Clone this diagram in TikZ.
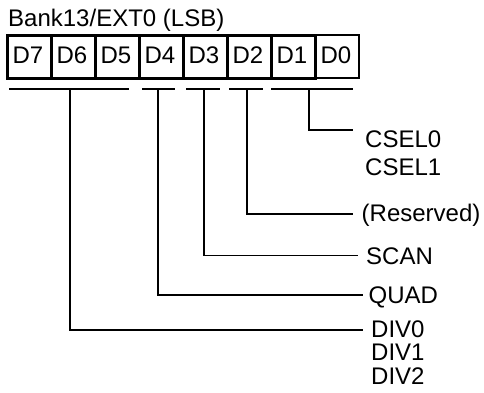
\documentclass[tikz,border=0pt]{standalone}
\usepackage{fontspec}
\setmainfont{Liberation Sans}
\begin{document}
\begin{tikzpicture}[x=1pt,y=-1pt,
  lbl/.style={inner sep=0pt,anchor=base west,font=\fontsize{24}{28}\selectfont},
  bitbox/.style={draw,line width=2.5pt,minimum width=44pt,minimum height=43pt,inner sep=0pt,anchor=north west},
  bitlast/.style={bitbox,line width=1.5pt},
  bitlbl/.style={inner sep=0pt,anchor=base,font=\fontsize{24}{28}\selectfont},
  bar/.style={line width=1.1pt},
  conn/.style={line width=1.6pt}]
\useasboundingbox (0,0) rectangle (484,392);
\node[lbl] (title) at (8,26.5) {Bank13/EXT0 (LSB)};
% boxes
\foreach \i/\n in {0/7,1/6,2/5,3/4,4/3,5/2,6/1}{
  \node[bitbox] (d\n) at (6+44*\i,34) {};
  \node[bitlbl] at (28+44*\i,63) {D\n};
}
\node[bitlast] (d0) at (314,34) {};
\node[bitlbl] at (336,63) {D0};
% bars
\coordinate (b7a) at (9,89);   \coordinate (b7b) at (129,89);
\coordinate (b4a) at (142,89); \coordinate (b4b) at (175,89);
\coordinate (b3a) at (186,89); \coordinate (b3b) at (220,89);
\coordinate (b2a) at (229,89); \coordinate (b2b) at (263,89);
\coordinate (b1a) at (271,89); \coordinate (b1b) at (353,89);
\draw[bar] (b7a) -- (b7b);
\draw[bar] (b4a) -- (b4b);
\draw[bar] (b3a) -- (b3b);
\draw[bar] (b2a) -- (b2b);
\draw[bar] (b1a) -- (b1b);
% taps
\coordinate (t7) at (70,89);
\coordinate (t4) at (158,89);
\coordinate (t3) at (204,89);
\coordinate (t2) at (247,89);
\coordinate (t1) at (309,89);
% labels
\node[lbl] (csel0) at (365,147) {CSEL0};
\node[lbl] (csel1) at (365,175.5) {CSEL1};
\node[lbl] (res) at (361.5,221) {(Reserved)};
\node[lbl] (scan) at (366,264) {SCAN};
\node[lbl] (quad) at (368.5,303.5) {QUAD};
\node[lbl] (div0) at (371,337) {DIV0};
\node[lbl] (div1) at (371,360.5) {DIV1};
\node[lbl] (div2) at (371,384) {DIV2};
% connector ends
\coordinate (ecsel) at (353,130);
\coordinate (eres) at (353,214);
\coordinate (escan) at (358,255.5);
\coordinate (equad) at (363,295);
\coordinate (ediv) at (363,330);
\draw[conn] (t1) |- (ecsel);
\draw[conn] (t2) |- (eres);
\draw[conn] (t3) |- (escan);
\draw[conn] (t4) |- (equad);
\draw[conn] (t7) |- (ediv);
\end{tikzpicture}
\end{document}
